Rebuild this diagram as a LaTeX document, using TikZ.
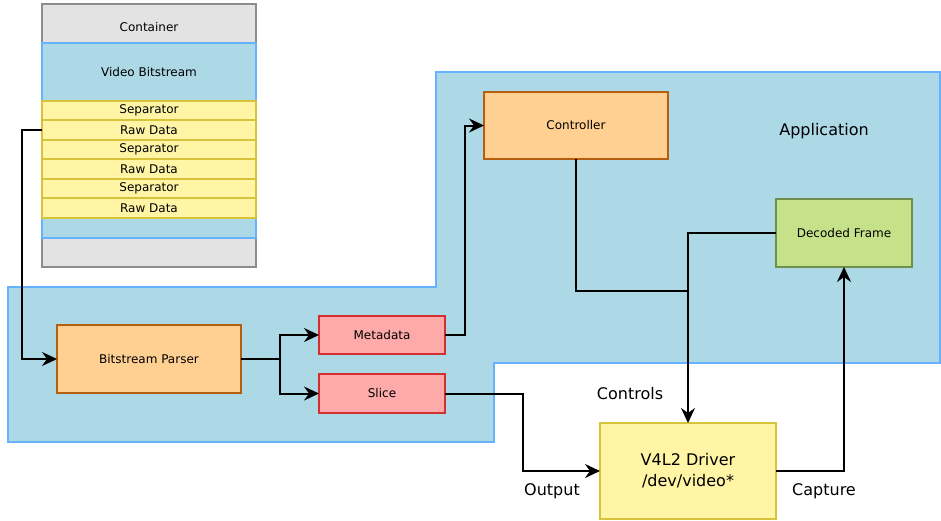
\documentclass[tikz,border=0pt]{standalone}
\usepackage{fontspec}
\setmainfont{DejaVu Sans}
\usetikzlibrary{arrows.meta}
\definecolor{grayfill}{HTML}{E3E3E3}
\definecolor{graystroke}{HTML}{8C8C8C}
\definecolor{bluefill}{HTML}{ADD8E6}
\definecolor{bluestroke}{HTML}{66B2FF}
\definecolor{yelfill}{HTML}{FFF5A5}
\definecolor{yelstroke}{HTML}{D6C33A}
\definecolor{orfill}{HTML}{FFD092}
\definecolor{orstroke}{HTML}{B45F10}
\definecolor{pinkfill}{HTML}{FFAAAA}
\definecolor{pinkstroke}{HTML}{D32F2F}
\definecolor{grfill}{HTML}{C5E28A}
\definecolor{grstroke}{HTML}{6F8F4A}
\tikzset{
  box/.style={rectangle, inner sep=0pt, outer sep=0pt, line width=2pt, font=\fontsize{12}{14}\selectfont},
  rowbox/.style={box, draw=yelstroke, fill=yelfill, minimum width=214pt, minimum height=19.5pt},
  orbox/.style={box, draw=orstroke, fill=orfill},
  pinkbox/.style={box, draw=pinkstroke, fill=pinkfill, minimum width=126pt, minimum height=38.5pt},
  bigtext/.style={inner sep=0pt, font=\fontsize{16}{21}\selectfont},
  smalltext/.style={inner sep=0pt, font=\fontsize{12}{14}\selectfont},
  tip/.tip={Stealth[length=15pt 0,width=14pt 0,inset=5pt 0]},
  conn/.style={line width=2pt, -tip},
  wire/.style={line width=2pt}
}
\begin{document}
\begin{tikzpicture}[x=1pt,y=-1pt]
\useasboundingbox (0,0) rectangle (941,520);
% application region
\draw[line width=2pt, draw=bluestroke, fill=bluefill]
  (436,72) -- (940,72) -- (940,363) -- (494,363) -- (494,442) -- (8,442) -- (8,287) -- (436,287) -- cycle;
% container
\node[box, draw=graystroke, fill=grayfill, minimum width=214pt, minimum height=263pt] (container) at (149,135.5) {};
\node[smalltext] (containerlbl) at (149,27) {Container};
\node[box, draw=bluestroke, fill=bluefill, minimum width=214pt, minimum height=195pt] (vbs) at (149,140.5) {};
\node[smalltext] (vbslbl) at (149,72) {Video Bitstream};
\node[rowbox] (sep1) at (149,110.5) {Separator};
\node[rowbox] (raw1) at (149,130) {Raw Data};
\node[rowbox] (sep2) at (149,149.5) {Separator};
\node[rowbox] (raw2) at (149,169) {Raw Data};
\node[rowbox] (sep3) at (149,188.5) {Separator};
\node[rowbox] (raw3) at (149,208) {Raw Data};
% nodes
\node[orbox, minimum width=184pt, minimum height=68pt] (parser) at (149,359) {Bitstream Parser};
\node[pinkbox] (meta) at (382,335) {Metadata};
\node[pinkbox] (slice) at (382,393.5) {Slice};
\node[orbox, minimum width=184pt, minimum height=67pt] (ctrl) at (576,125.5) {Controller};
\node[box, draw=grstroke, fill=grfill, minimum width=136pt, minimum height=68pt] (dec) at (844,233) {Decoded Frame};
\node[box, draw=yelstroke, fill=yelfill, minimum width=176pt, minimum height=96pt, align=center, font=\fontsize{16}{21}\selectfont] (v4l2) at (688,471) {V4L2 Driver\\/dev/video*};
% labels
\node[bigtext] (applbl) at (824,131) {Application};
\node[bigtext] (ctrlslbl) at (630,394) {Controls};
\node[bigtext] (outlbl) at (552,491) {Output};
\node[bigtext] (caplbl) at (824,491) {Capture};
% connectors
\draw[conn] (raw1.west) -- ++(-20,0) |- (parser.west);
\draw[conn] (parser.east) -- ++(39,0) coordinate (split) |- (meta.west);
\draw[conn] (split) |- (slice.west);
\draw[conn] (meta.east) -- ++(20,0) |- (ctrl.west);
\draw[conn] (slice.east) -- ++(78,0) |- (v4l2.west);
\coordinate (junction) at (688,291);
\draw[wire] (ctrl.south) |- (junction);
\draw[conn] (dec.west) -| (v4l2.north);
\draw[conn] (v4l2.east) -| (dec.south);
\end{tikzpicture}
\end{document}
